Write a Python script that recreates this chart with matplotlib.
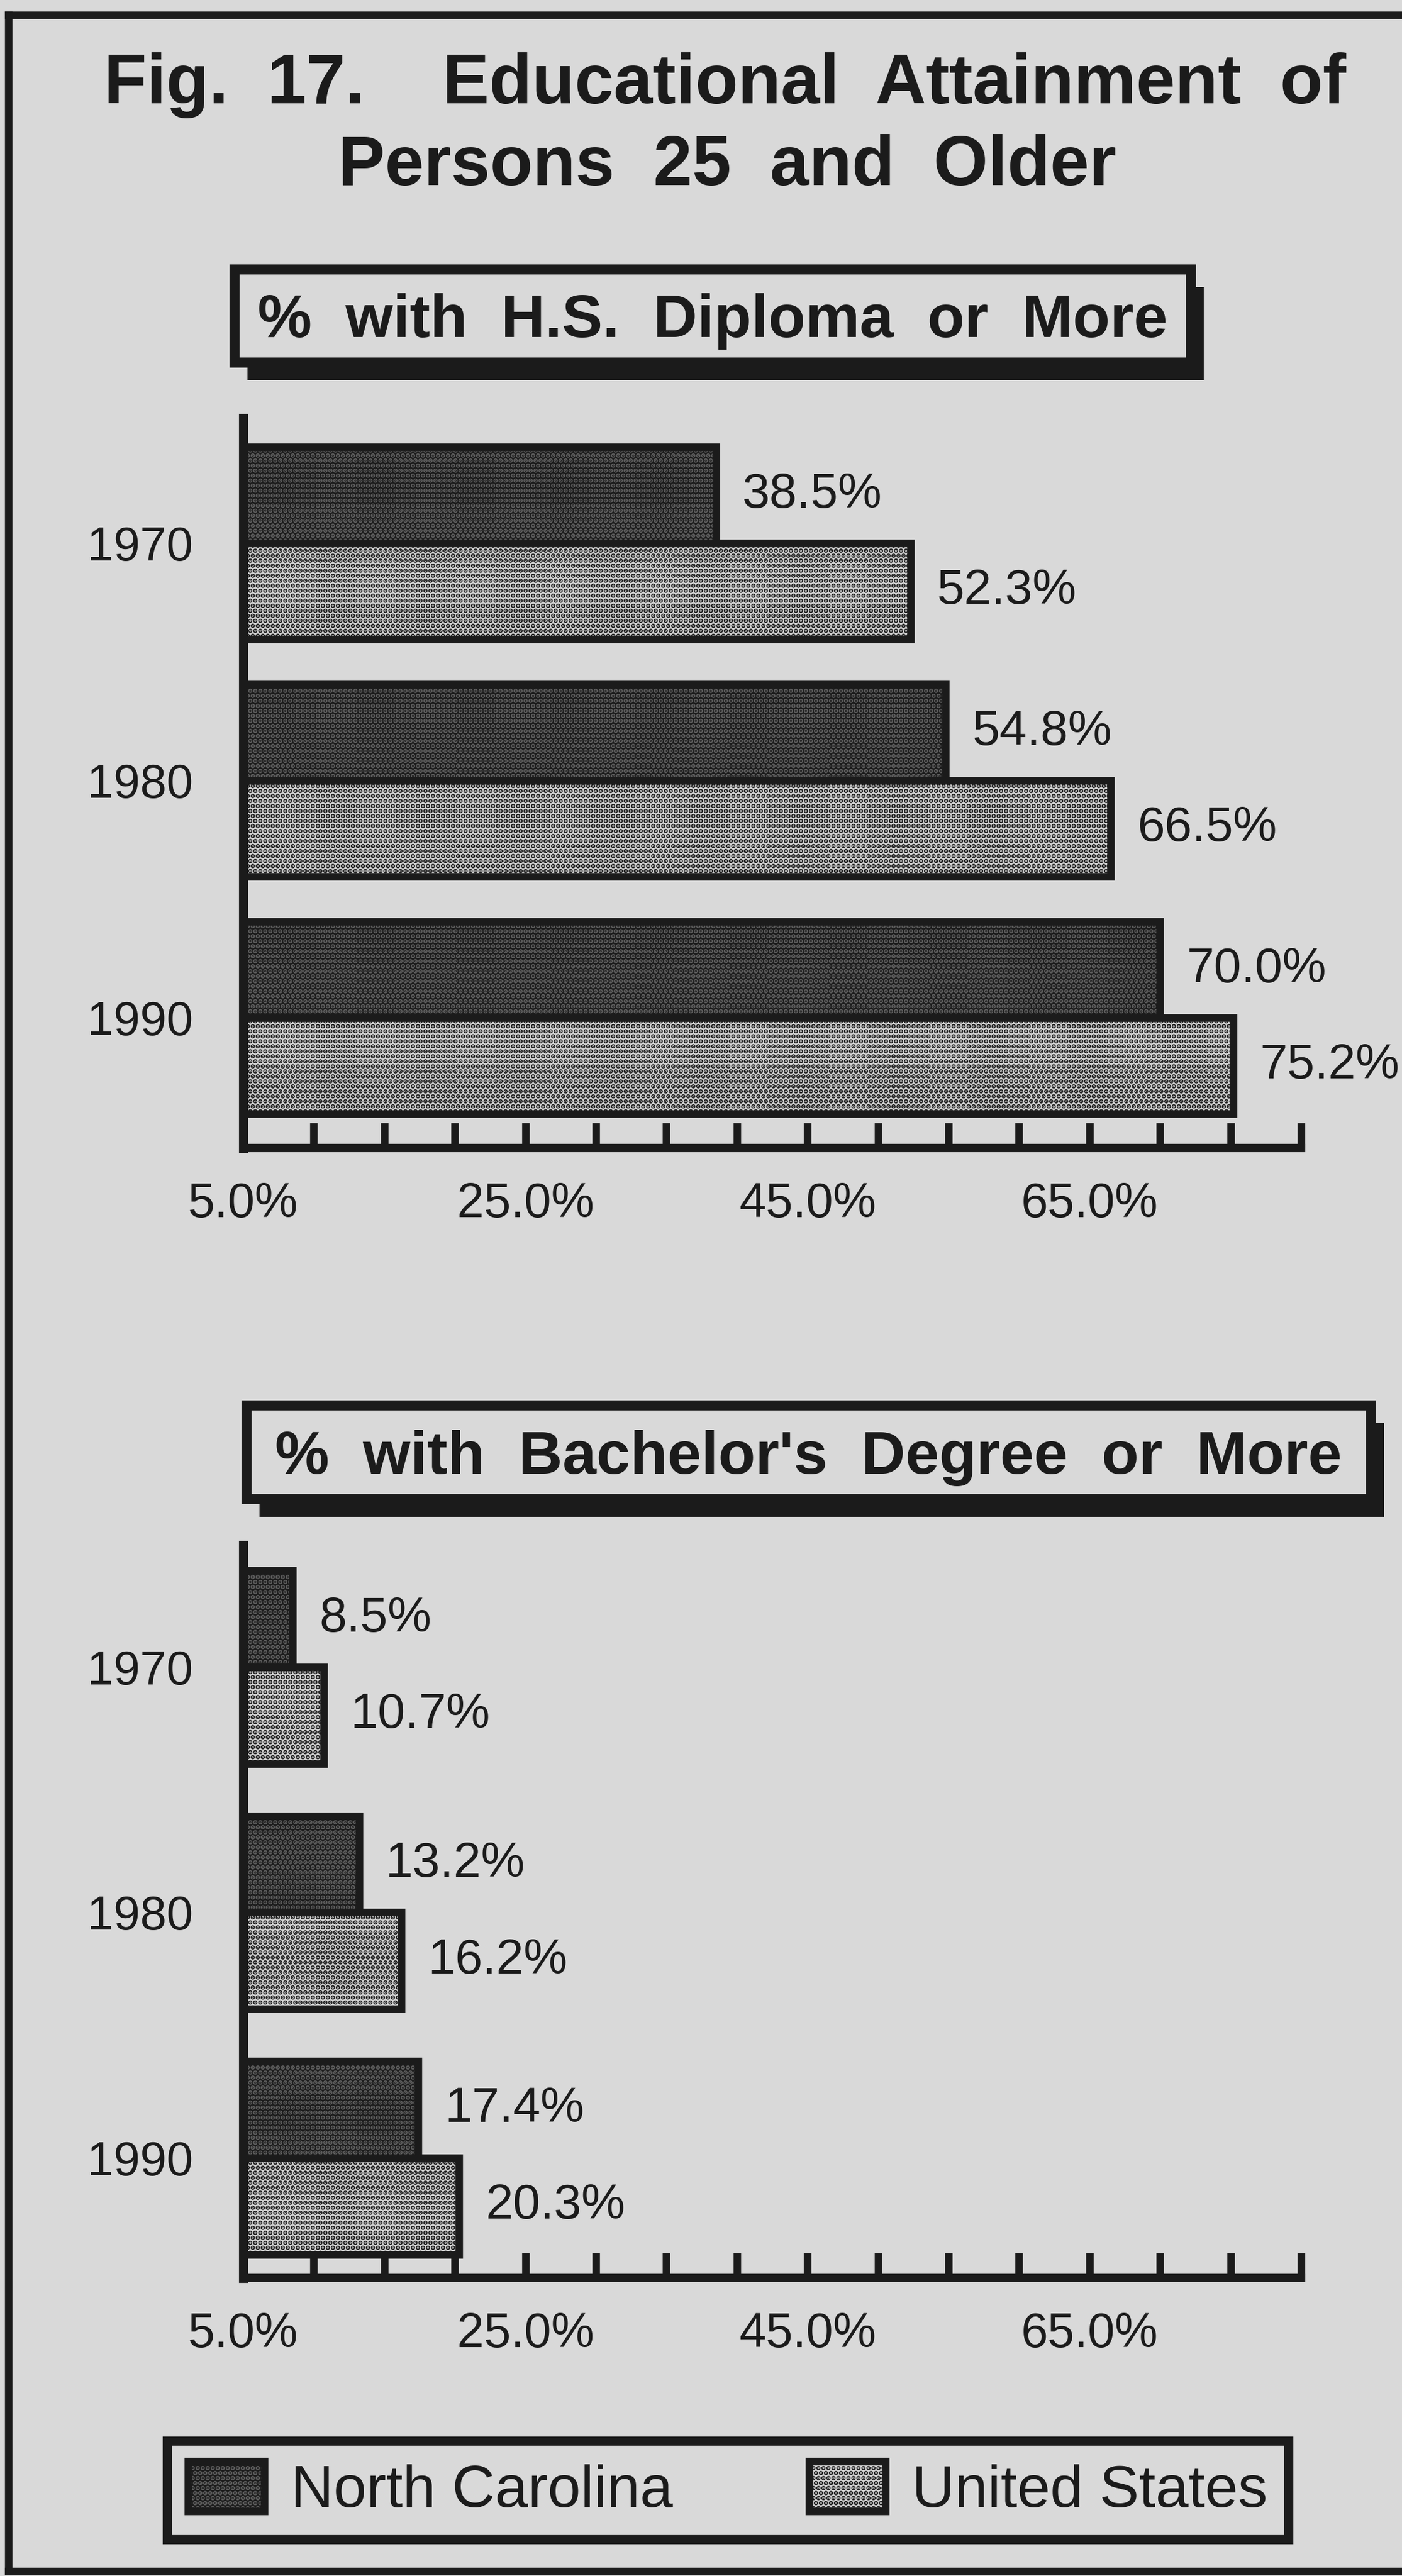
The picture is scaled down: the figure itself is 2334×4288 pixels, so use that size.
import matplotlib
matplotlib.use('Agg')
import matplotlib.pyplot as plt
import numpy as np
from matplotlib.patches import Rectangle
from matplotlib.lines import Line2D
from matplotlib.ticker import FixedLocator, FormatStrFormatter

# ---------------- data ----------------
years = ['1970', '1980', '1990']
series_names = ['North Carolina', 'United States']
hs_nc = [38.5, 54.8, 70.0]
hs_us = [52.3, 66.5, 75.2]
ba_nc = [8.5, 13.2, 17.4]
ba_us = [10.7, 16.2, 20.3]
major_ticks = [5, 25, 45, 65]
minor_ticks = [10, 15, 20, 30, 35, 40, 50, 55, 60, 70, 75, 80]
x_min, x_max = 5, 80
title_lines = ['Fig.  17.    Educational  Attainment  of',
               'Persons  25  and  Older']
panel_titles = ['%  with  H.S.  Diploma  or  More',
                "%  with  Bachelor's  Degree  or  More"]

# ---------------- style ----------------
BG = '#d9d9d9'
INK = '#1b1b1b'
NC_FACE, NC_DOT = '#1c1c1c', '#5e5e5e'
US_FACE, US_DOT = '#d2d2d2', '#1e1e1e'

plt.rcParams['font.family'] = ['Liberation Sans', 'DejaVu Sans']
plt.rcParams['hatch.linewidth'] = 3.8

W, H = 2334, 4288
fig = plt.figure(figsize=(W / 100, H / 100), dpi=100, facecolor=BG)


def fx(px):
    return px / W


def fy(py):
    return 1 - py / H


# outer frame (top, left, bottom)
for xs, ys in [([14, W], [25, 25]), ([14, 14], [25, 4280]), ([14, W], [4280, 4280])]:
    fig.add_artist(Line2D([fx(v) for v in xs], [fy(v) for v in ys],
                          transform=fig.transFigure, color=INK, lw=9,
                          solid_capstyle='projecting'))

# main title
fig.text(fx(1207), fy(172), title_lines[0], ha='center', va='baseline',
         fontsize=84, fontweight='bold', color=INK)
fig.text(fx(1211), fy(308), title_lines[1], ha='center', va='baseline',
         fontsize=84, fontweight='bold', color=INK)


def boxed_title(x0, y0, x1, y1, text):
    shadow = Rectangle((fx(x0 + 22), fy(y1 + 30)), (x1 - x0) / W, (y1 - y0) / H,
                       transform=fig.transFigure, facecolor=INK, edgecolor=INK, lw=0)
    box = Rectangle((fx(x0), fy(y1)), (x1 - x0) / W, (y1 - y0) / H,
                    transform=fig.transFigure, facecolor=BG, edgecolor=INK, lw=12)
    fig.add_artist(shadow)
    fig.add_artist(box)
    fig.text(fx((x0 + x1) / 2), fy((y0 + y1) / 2 + 36), text, ha='center',
             va='baseline', fontsize=73, fontweight='bold', color=INK)


boxed_title(390, 448, 1982, 603, panel_titles[0])
boxed_title(410, 2339, 2282, 2495, panel_titles[1])


def panel(rect, nc, us, h, ylim):
    ax = fig.add_axes(rect)
    ax.set_facecolor('none')
    y = np.arange(len(years))
    handles = []
    for vals, off, face, dot in [(nc, -h / 2, NC_FACE, NC_DOT), (us, h / 2, US_FACE, US_DOT)]:
        vals = np.asarray(vals)
        fill = ax.barh(y + off, vals - x_min, left=x_min, height=h, color=face,
                       edgecolor=dot, hatch='..', linewidth=0, zorder=2)
        edge = ax.barh(y + off, vals - x_min, left=x_min, height=h, fill=False,
                       edgecolor=INK, linewidth=9, zorder=3)
        handles.append((fill[0], edge[0]))
        for v, yy in zip(vals, y + off):
            ax.annotate(f'{v:.1f}%', xy=(v, yy), xytext=(32, 0),
                        textcoords='offset points', ha='left', va='center',
                        fontsize=59, color=INK)
    ax.set_xlim(x_min, x_max)
    ax.set_ylim(*ylim)
    ax.set_yticks(y, years)
    ax.xaxis.set_major_locator(FixedLocator(major_ticks))
    ax.xaxis.set_minor_locator(FixedLocator(minor_ticks))
    ax.xaxis.set_major_formatter(FormatStrFormatter('%.1f%%'))
    ax.tick_params(axis='x', which='both', direction='in', length=30, width=9,
                   color=INK)
    ax.tick_params(axis='x', which='major', labelsize=58, pad=40, labelcolor=INK)
    ax.tick_params(axis='y', length=0, pad=60, labelsize=57, labelcolor=INK)
    for s in ['top', 'right']:
        ax.spines[s].set_visible(False)
    ax.spines['left'].set_linewidth(11)
    ax.spines['bottom'].set_linewidth(10)
    ax.spines['left'].set_color(INK)
    ax.spines['bottom'].set_color(INK)
    return ax, handles


ax1, _ = panel([fx(405), fy(1911), (2166 - 405) / W, (1911 - 696) / H],
               hs_nc, hs_us, 0.405, (2.549, -0.527))
ax2, handles = panel([fx(405), fy(3792), (2166 - 405) / W, (3792 - 2572) / H],
                     ba_nc, ba_us, 0.394, (2.49, -0.497))

leg = fig.legend(handles, series_names, loc='center',
                 bbox_to_anchor=(fx(278), fy(4224), (2145 - 278) / W, (4224 - 4066) / H),
                 mode='expand', borderaxespad=0, ncol=2, fontsize=71,
                 handlelength=1.29, handleheight=0.91, handletextpad=0.45,
                 columnspacing=1.7, borderpad=0.35, frameon=True, fancybox=False,
                 edgecolor=INK, facecolor=BG, framealpha=1, labelcolor=INK)
leg.get_frame().set_linewidth(11)

fig.savefig('out.png', dpi=100, facecolor=BG)
